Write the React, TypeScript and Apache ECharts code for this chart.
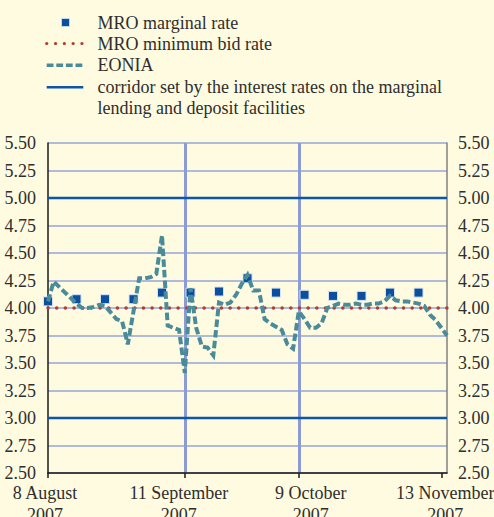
import React, { useEffect, useRef } from 'react';
import * as echarts from 'echarts';

// ---------- data ----------
const startDate = '2007-08-08';
const endDate = '2007-11-14';

function businessDays(a: string, b: string): string[] {
  const out: string[] = [];
  const d = new Date(a + 'T00:00:00Z');
  const end = new Date(b + 'T00:00:00Z');
  while (d.getTime() <= end.getTime()) {
    const wd = d.getUTCDay();
    if (wd !== 0 && wd !== 6) out.push(d.toISOString().slice(0, 10));
    d.setUTCDate(d.getUTCDate() + 1);
  }
  return out;
}
const dates = businessDays(startDate, endDate);

// EONIA, one value per business day (8 Aug - 14 Nov 2007)
const eonia = [
  4.06, 4.24, 4.19, 4.14, 4.09, 4.04, 4.00, 4.00, 4.01, 4.03,
  4.02, 3.96, 3.90, 3.88, 3.67, 3.97, 4.27, 4.27, 4.28, 4.31,
  4.66, 3.84, 3.82, 3.80, 3.41, 4.18, 3.82, 3.65, 3.64, 3.57,
  4.05, 4.03, 4.05, 4.12, 4.22, 4.30, 4.16, 4.16, 3.90, 3.86,
  3.83, 3.80, 3.67, 3.63, 3.97, 3.90, 3.82, 3.82, 3.86, 4.00,
  4.02, 4.04, 4.03, 4.03, 4.04, 4.03, 4.03, 4.04, 4.04, 4.06,
  4.11, 4.07, 4.06, 4.06, 4.05, 4.04, 4.02, 3.94, 3.89, 3.82,
  3.75,
];

const mroDates = [
  '2007-08-08', '2007-08-15', '2007-08-22', '2007-08-29', '2007-09-05',
  '2007-09-12', '2007-09-19', '2007-09-26', '2007-10-03', '2007-10-10',
  '2007-10-17', '2007-10-24', '2007-10-31', '2007-11-07',
];
const mroMarginal = [4.06, 4.08, 4.08, 4.08, 4.14, 4.14, 4.15, 4.27, 4.14, 4.12, 4.11, 4.11, 4.14, 4.14];

const mroMinBid = 4.0;
const corridorUpper = 5.0;
const corridorLower = 3.0;

const yMin = 2.5;
const yMax = 5.5;
const yStep = 0.25;

const tickDates = ['2007-08-08', '2007-09-11', '2007-10-09', '2007-11-13'];
const tickLabels = ['8 August\n2007', '11 September\n2007', '9 October\n2007', '13 November\n2007'];
const gridLineDates = ['2007-09-11', '2007-10-09'];

const legendLabels = [
  'MRO marginal rate',
  'MRO minimum bid rate',
  'EONIA',
  'corridor set by the interest rates on the marginal',
  'lending and deposit facilities',
];

// ---------- styles ----------
const FONT = "'Liberation Serif', 'Times New Roman', serif";
const BG = '#fefbe0';
const TXT = '#2e2e2e';
const C_SQ = '#0b4f9e';
const C_RED = '#b23b35';
const C_TEAL = '#4a8b9a';
const C_BLUE = '#0d55a6';

export default function App() {
  const ref = useRef<HTMLDivElement>(null);

  useEffect(() => {
    if (!ref.current) return;
    const chart = echarts.init(ref.current, undefined, { renderer: 'svg' });
    const first = dates[0];
    const last = dates[dates.length - 1];

    const richShift: Record<string, any> = {
      l0: { padding: [0, 6, 0, 0] },
      l1: { padding: [0, 12, 0, 0] },
      l2: { padding: [0, 0, 0, 24] },
      l3: { padding: [0, 0, 0, 8] },
    };
    Object.keys(richShift).forEach((k) => {
      richShift[k] = { ...richShift[k], fontSize: 18, fontFamily: FONT, color: TXT, lineHeight: 22 };
    });

    const yLabel = {
      fontSize: 18,
      fontFamily: FONT,
      color: TXT,
      formatter: (v: number) => v.toFixed(2),
    };

    const legendText = (i: number, y: number) => ({
      type: 'text',
      x: 97.5,
      y,
      style: {
        text: legendLabels[i],
        fontSize: 18,
        fontFamily: FONT,
        fill: TXT,
        verticalAlign: 'middle',
        align: 'left',
      },
    });

    chart.setOption({
      animation: false,
      backgroundColor: BG,
      textStyle: { fontFamily: FONT },
      grid: { left: 48, top: 143, width: 399, height: 330, containLabel: false, outerBoundsMode: 'none' },
      xAxis: {
        type: 'category',
        data: dates,
        boundaryGap: false,
        axisLine: { show: true, lineStyle: { color: '#1a1a1a', width: 1.5 } },
        axisTick: {
          show: true,
          interval: (_i: number, v: string) => tickDates.includes(v),
          length: 5,
          lineStyle: { color: '#1a1a1a', width: 1.5 },
        },
        axisLabel: {
          interval: (_i: number, v: string) => tickDates.includes(v),
          margin: 9,
          fontSize: 18,
          fontFamily: FONT,
          color: TXT,
          lineHeight: 22,
          formatter: (v: string) => {
            const i = tickDates.indexOf(v);
            if (i < 0) return '';
            return tickLabels[i]
              .split('\n')
              .map((s) => `{l${i}|${s}}`)
              .join('\n');
          },
          rich: richShift,
        },
        splitLine: {
          show: true,
          interval: (_i: number, v: string) => gridLineDates.includes(v),
          lineStyle: { color: '#8c9bd3', width: 3 },
        },
      },
      yAxis: [
        {
          type: 'value',
          position: 'left',
          min: yMin,
          max: yMax,
          interval: yStep,
          axisLine: { show: true, lineStyle: { color: '#1a1a1a', width: 1.5 } },
          axisTick: { show: false },
          axisLabel: { ...yLabel, margin: 12 },
          splitLine: { show: true, lineStyle: { color: '#b0bad9', width: 2 } },
        },
        {
          type: 'value',
          position: 'right',
          min: yMin,
          max: yMax,
          interval: yStep,
          axisLine: { show: true, lineStyle: { color: '#808080', width: 1.5 } },
          axisTick: { show: false },
          axisLabel: { ...yLabel, margin: 11 },
          splitLine: { show: false },
        },
      ],
      series: [
        {
          name: legendLabels[0],
          type: 'scatter',
          data: mroDates.map((d, i) => [d, mroMarginal[i]]),
          symbol: 'rect',
          symbolSize: 9,
          itemStyle: { color: C_SQ, borderColor: '#d6e2f3', borderWidth: 1, opacity: 1 },
          z: 2,
        },
        {
          name: legendLabels[1],
          type: 'line',
          data: [[first, mroMinBid], [last, mroMinBid]],
          showSymbol: false,
          lineStyle: { color: C_RED, width: 3.5, type: [0.1, 8.57], cap: 'round' },
          z: 3,
        },
        {
          name: legendLabels[2],
          type: 'line',
          data: eonia,
          showSymbol: false,
          lineStyle: { color: C_TEAL, width: 4, type: [7.5, 3.2], join: 'miter' },
          z: 4,
        },
        {
          name: 'corridor upper',
          type: 'line',
          data: [[first, corridorUpper], [last, corridorUpper]],
          showSymbol: false,
          lineStyle: { color: C_BLUE, width: 2.5 },
          z: 5,
        },
        {
          name: 'corridor lower',
          type: 'line',
          data: [[first, corridorLower], [last, corridorLower]],
          showSymbol: false,
          lineStyle: { color: C_BLUE, width: 2.5 },
          z: 5,
        },
      ],
      graphic: [
        {
          type: 'rect',
          shape: { x: 61.5, y: 18.5, width: 8, height: 8 },
          style: { fill: C_SQ, stroke: '#d6e2f3', lineWidth: 0.8 },
        },
        {
          type: 'line',
          shape: { x1: 46.7, y1: 43.5, x2: 83, y2: 43.5 },
          style: { stroke: C_RED, lineWidth: 3.2, lineDash: [0.1, 8.7], lineCap: 'round' },
        },
        {
          type: 'line',
          shape: { x1: 46.7, y1: 65.3, x2: 83.5, y2: 65.3 },
          style: { stroke: C_TEAL, lineWidth: 3.5, lineDash: [6.8, 2.8] },
        },
        {
          type: 'line',
          shape: { x1: 46.7, y1: 87.3, x2: 83.3, y2: 87.3 },
          style: { stroke: C_BLUE, lineWidth: 2.5 },
        },
        legendText(0, 22.5),
        legendText(1, 43.5),
        legendText(2, 65),
        legendText(3, 86.5),
        legendText(4, 108),
      ],
    });

    return () => chart.dispose();
  }, []);

  return (
    <div
      ref={ref}
      style={{ position: 'absolute', left: 0, top: 0, width: 494, height: 517 }}
    />
  );
}
